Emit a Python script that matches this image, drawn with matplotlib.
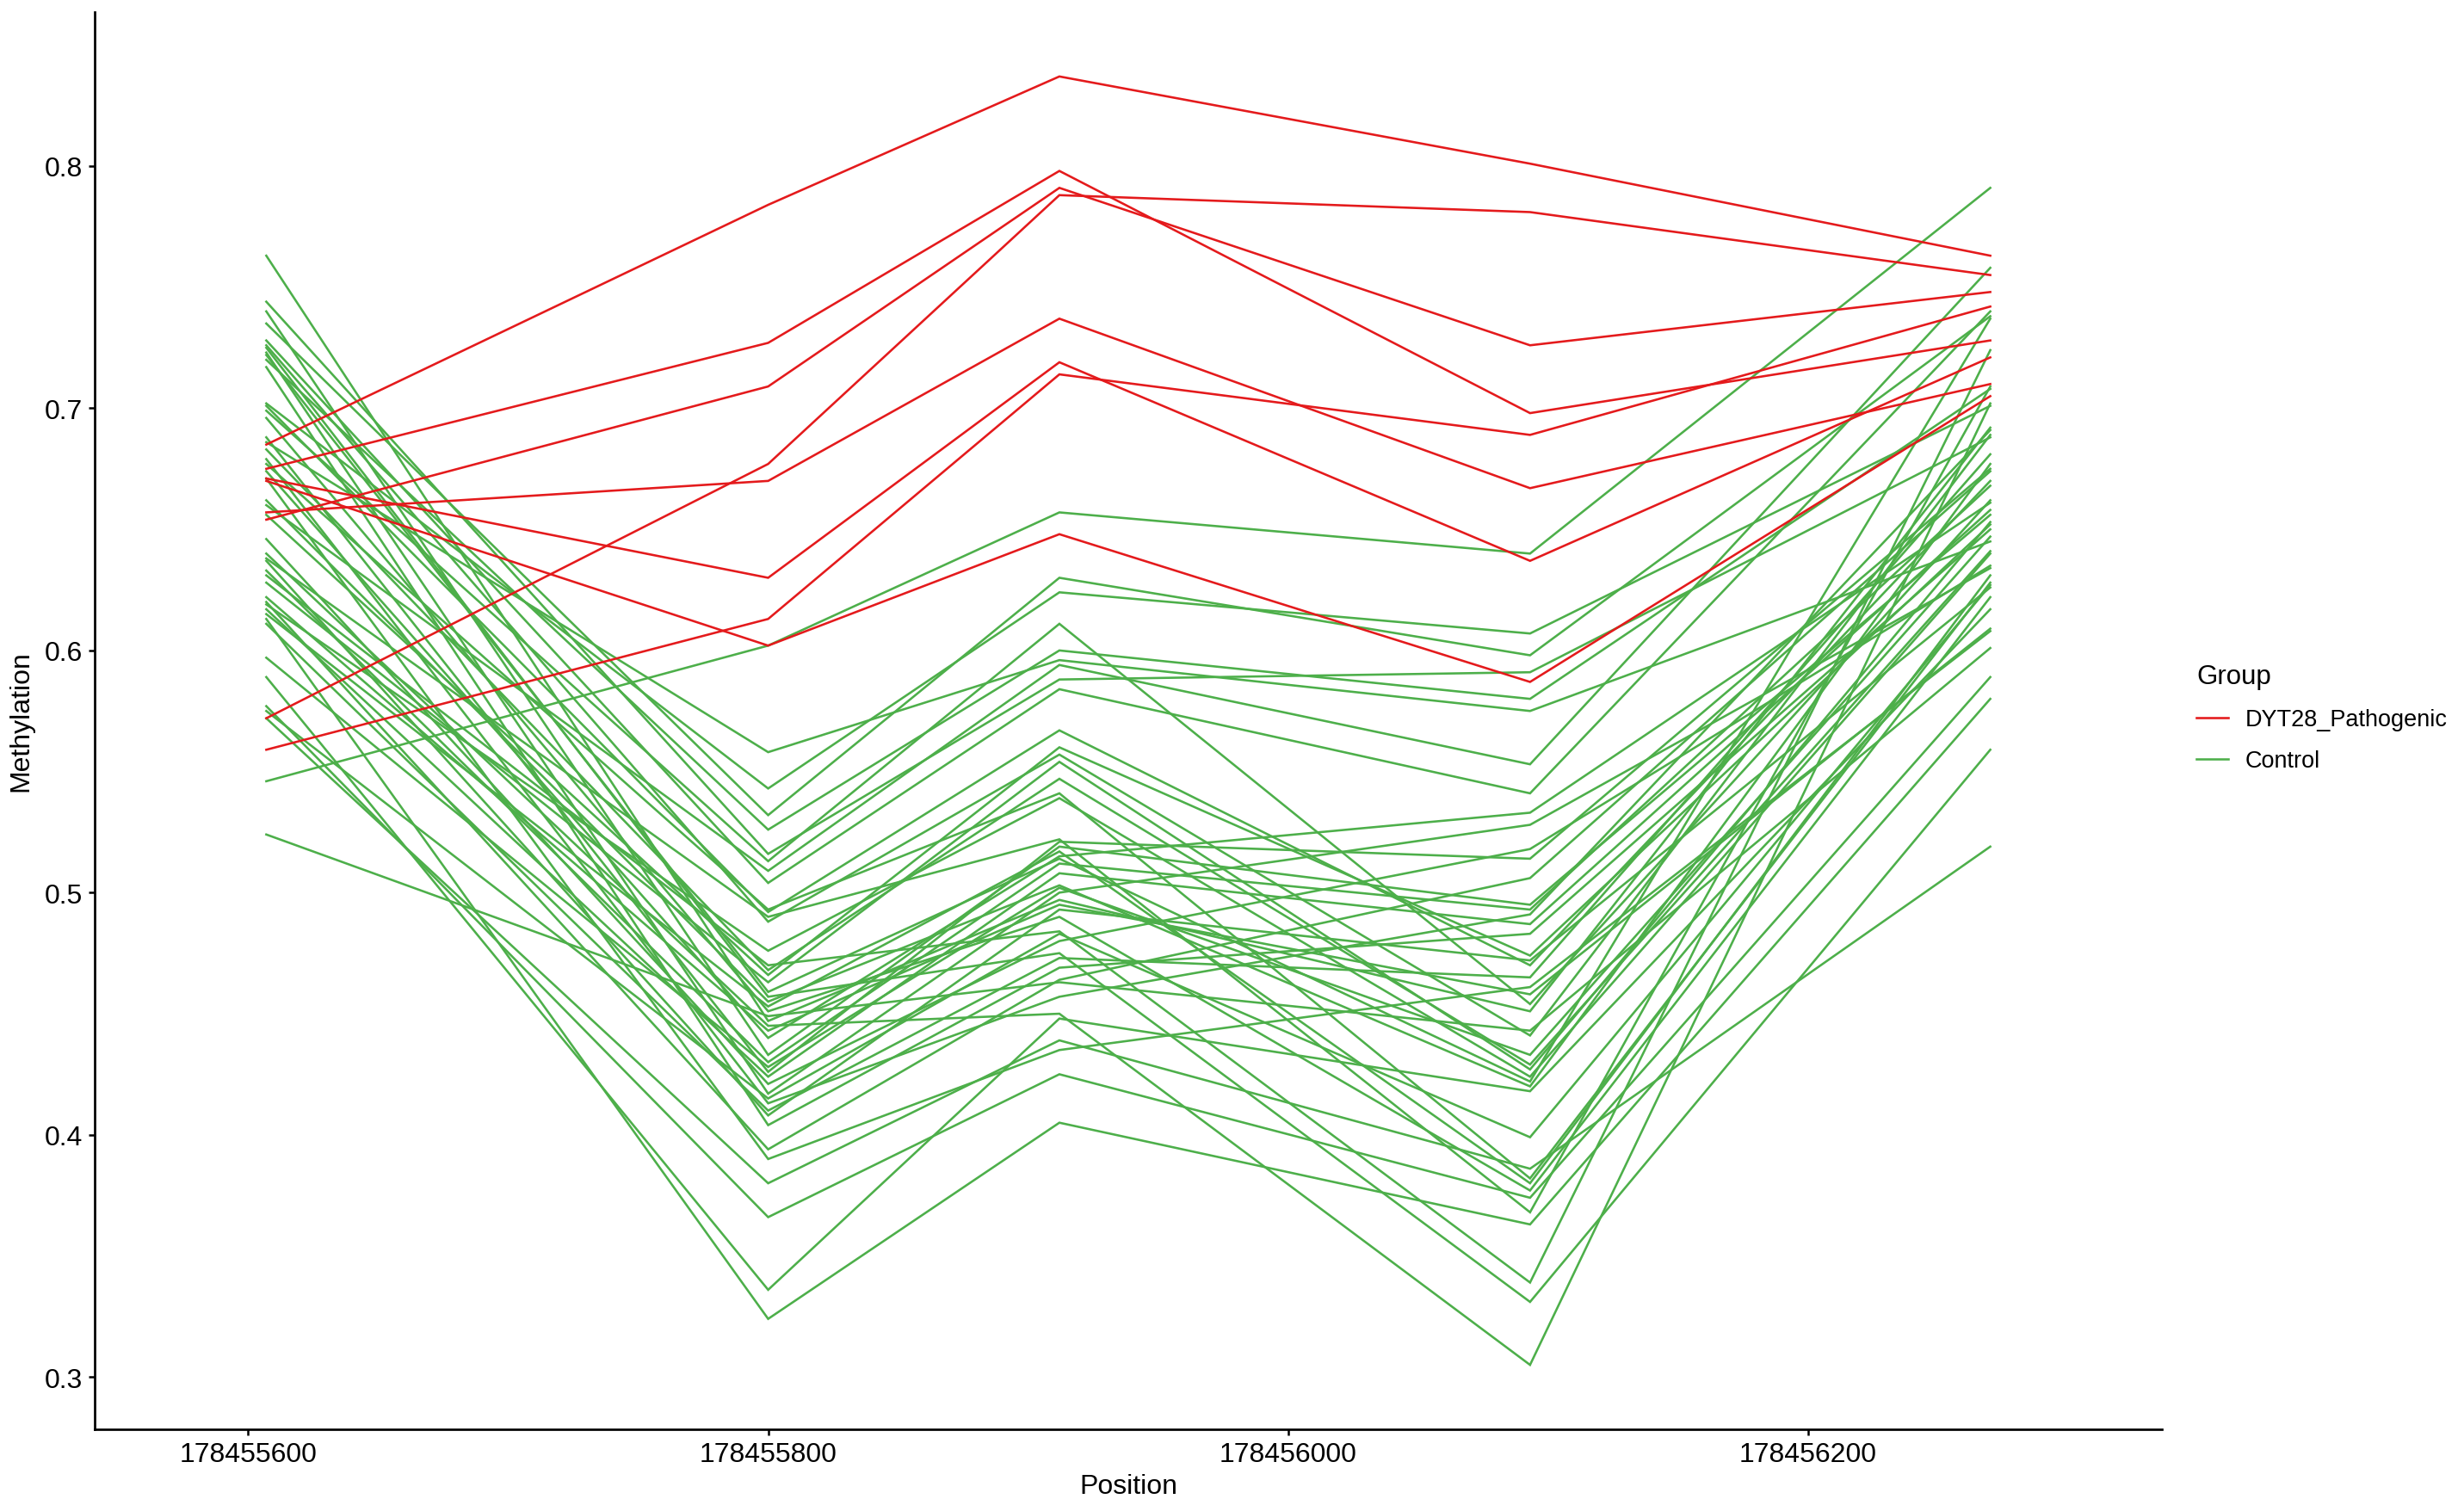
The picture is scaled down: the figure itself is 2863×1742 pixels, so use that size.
import matplotlib
matplotlib.use("Agg")
import matplotlib.pyplot as plt

# CpG positions (x) shared by every sample
positions = [178455607, 178455800, 178455912, 178456093, 178456270]

group_labels = ["DYT28_Pathogenic", "Control"]
group_colors = ["#E41A1C", "#4DAF4A"]

# methylation per sample, one value per position
pathogenic = [
    [0.685, 0.784, 0.837, 0.801, 0.763],
    [0.675, 0.727, 0.798, 0.698, 0.728],
    [0.654, 0.709, 0.791, 0.726, 0.748],
    [0.572, 0.677, 0.788, 0.781, 0.755],
    [0.657, 0.670, 0.737, 0.667, 0.710],
    [0.671, 0.630, 0.719, 0.637, 0.721],
    [0.559, 0.613, 0.714, 0.689, 0.742],
    [0.670, 0.602, 0.648, 0.587, 0.705],
]

control = [
    [0.546, 0.602, 0.657, 0.640, 0.791],
    [0.686, 0.558, 0.596, 0.575, 0.645],
    [0.702, 0.543, 0.624, 0.607, 0.701],
    [0.613, 0.324, 0.405, 0.363, 0.580],
    [0.589, 0.336, 0.448, 0.418, 0.617],
    [0.577, 0.366, 0.425, 0.374, 0.589],
    [0.763, 0.447, 0.497, 0.451, 0.692],
    [0.524, 0.449, 0.463, 0.443, 0.601],
    [0.735, 0.532, 0.630, 0.598, 0.738],
    [0.744, 0.516, 0.588, 0.591, 0.688],
    [0.720, 0.526, 0.600, 0.580, 0.708],
    [0.660, 0.509, 0.594, 0.553, 0.758],
    [0.728, 0.504, 0.584, 0.541, 0.740],
    [0.640, 0.445, 0.450, 0.305, 0.702],
    [0.725, 0.457, 0.475, 0.331, 0.559],
    [0.631, 0.470, 0.484, 0.339, 0.724],
    [0.572, 0.380, 0.439, 0.386, 0.519],
    [0.699, 0.513, 0.611, 0.454, 0.662],
    [0.740, 0.433, 0.519, 0.495, 0.656],
    [0.726, 0.488, 0.557, 0.441, 0.689],
    [0.723, 0.417, 0.500, 0.528, 0.634],
    [0.722, 0.459, 0.514, 0.422, 0.737],
    [0.717, 0.404, 0.469, 0.483, 0.650],
    [0.701, 0.492, 0.567, 0.470, 0.670],
    [0.696, 0.451, 0.490, 0.377, 0.622],
    [0.688, 0.426, 0.521, 0.514, 0.675],
    [0.683, 0.468, 0.547, 0.429, 0.641],
    [0.679, 0.413, 0.457, 0.491, 0.691],
    [0.677, 0.493, 0.541, 0.382, 0.628],
    [0.674, 0.440, 0.515, 0.533, 0.661],
    [0.671, 0.390, 0.435, 0.461, 0.608],
    [0.662, 0.455, 0.503, 0.420, 0.677],
    [0.656, 0.466, 0.560, 0.474, 0.652],
    [0.646, 0.421, 0.480, 0.518, 0.635],
    [0.638, 0.490, 0.522, 0.368, 0.709],
    [0.637, 0.408, 0.493, 0.472, 0.626],
    [0.633, 0.430, 0.512, 0.493, 0.668],
    [0.628, 0.463, 0.554, 0.427, 0.653],
    [0.622, 0.443, 0.495, 0.458, 0.609],
    [0.620, 0.394, 0.464, 0.506, 0.674],
    [0.619, 0.476, 0.539, 0.424, 0.640],
    [0.617, 0.424, 0.508, 0.487, 0.658],
    [0.615, 0.453, 0.517, 0.380, 0.631],
    [0.611, 0.410, 0.473, 0.465, 0.681],
    [0.597, 0.428, 0.502, 0.433, 0.647],
    [0.575, 0.415, 0.483, 0.399, 0.627],
]

x_ticks = [178455600, 178455800, 178456000, 178456200]
y_ticks = [0.3, 0.4, 0.5, 0.6, 0.7, 0.8]

plt.rcParams["font.family"] = ["Liberation Sans", "DejaVu Sans"]

W, H, DPI = 2863, 1743, 300
fig = plt.figure(figsize=(W / DPI, H / DPI), dpi=DPI)
ax = fig.add_axes([110 / W, 81 / H, (2512 - 110) / W, (1662 - 15) / H])

handles = {}
for rows, label, color in [(control, group_labels[1], group_colors[1]),
                           (pathogenic, group_labels[0], group_colors[0])]:
    for row in rows:
        (ln,) = ax.plot(positions, row, color=color, lw=0.62, solid_joinstyle="miter")
    handles[label] = ln

ax.set_xlim(178455541, 178456336)
ax.set_ylim(0.2784, 0.8636)
ax.set_xticks(x_ticks)
ax.set_xticklabels([str(v) for v in x_ticks])
ax.set_yticks(y_ticks)
ax.set_yticklabels([f"{v:.1f}" for v in y_ticks])

for side in ["top", "right"]:
    ax.spines[side].set_visible(False)
for side in ["left", "bottom"]:
    ax.spines[side].set_linewidth(0.65)
ax.tick_params(axis="both", length=1.7, width=0.6, pad=1.6, labelsize=7.7, colors="black")

ax.set_xlabel("Position", fontsize=7.7, labelpad=1.8)
ax.set_ylabel("Methylation", fontsize=7.7, labelpad=3.0)

fig.legend(
    [handles[g] for g in group_labels], group_labels,
    title="Group", loc="upper left", bbox_to_anchor=(2552 / W, 1 - 772 / H),
    frameon=False, fontsize=6.5, title_fontsize=7.5, alignment="left",
    handlelength=1.35, handletextpad=0.75, labelspacing=0.82, borderpad=0.0,
    borderaxespad=0.0,
)

fig.savefig("out.png", dpi=DPI)
